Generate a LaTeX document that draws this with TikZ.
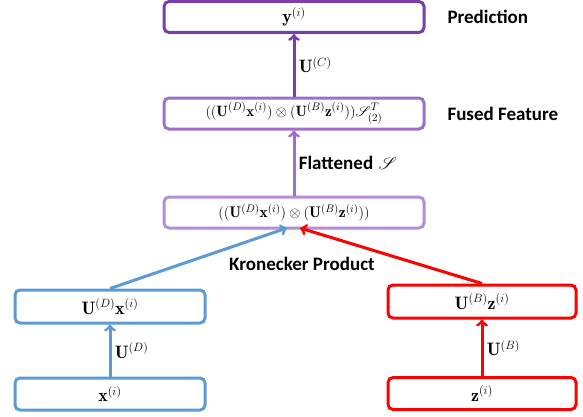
\documentclass[tikz,border=0pt]{standalone}
\usepackage{fontspec}
\setsansfont{Carlito}
\usepackage{amsmath}
\usepackage{amssymb}
\usepackage{mathrsfs}
\usetikzlibrary{arrows}
\definecolor{predpurple}{HTML}{7A3DAE}
\definecolor{fusepurple}{HTML}{9D6FCB}
\definecolor{kronpurple}{HTML}{B48DD8}
\definecolor{imgblue}{HTML}{5B9BD5}
\definecolor{txtred}{HTML}{FF0000}
\tikzset{
  featbox/.style={draw, line width=3pt, rounded corners=5pt, minimum height=31pt, inner sep=0pt, font=\fontsize{18}{21}\selectfont},
  sidelabel/.style={anchor=west, font=\sffamily\bfseries\fontsize{19}{22}\selectfont},
  link/.style={line width=3pt},
  linklabel/.style={right, text=black, font=\fontsize{18}{21}\selectfont},
}
\begin{document}
\begin{tikzpicture}[x=1pt,y=1pt,->,>=to]
\useasboundingbox (0,0) rectangle (583,416);
% fusion column
\node[featbox, draw=predpurple, minimum width=260pt] (pred) at (294,399) {$\mathbf{y}^{(i)}$};
\node[featbox, draw=fusepurple, minimum width=260pt, font=\fontsize{15}{18}\selectfont] (fused) at (294,302.5)
  {$((\mathbf{U}^{(D)}\mathbf{x}^{(i)})\otimes(\mathbf{U}^{(B)}\mathbf{z}^{(i)}))\mathscr{S}^{T}_{(2)}$};
\node[featbox, draw=kronpurple, minimum width=260pt, font=\fontsize{15.5}{18}\selectfont] (kron) at (294,203.5)
  {$((\mathbf{U}^{(D)}\mathbf{x}^{(i)})\otimes(\mathbf{U}^{(B)}\mathbf{z}^{(i)}))$};
% two inputs
\node[featbox, draw=imgblue, minimum width=190pt, minimum height=33pt] (ux) at (110,109.5) {$\mathbf{U}^{(D)}\mathbf{x}^{(i)}$};
\node[featbox, draw=imgblue, minimum width=190pt, minimum height=32pt] (x) at (110,22) {$\mathbf{x}^{(i)}$};
\node[featbox, draw=txtred, minimum width=188pt, minimum height=33pt] (uz) at (482,114.5) {$\mathbf{U}^{(B)}\mathbf{z}^{(i)}$};
\node[featbox, draw=txtred, minimum width=188pt, minimum height=32pt] (z) at (482,22.5) {$\mathbf{z}^{(i)}$};
% side texts
\node[sidelabel] (predtxt) at (444,399) {Prediction};
\node[sidelabel] (fusedtxt) at (444,302.5) {Fused Feature};
\node[font=\sffamily\bfseries\fontsize{19}{22}\selectfont] (krontxt) at (302,152) {Kronecker Product};
\coordinate (kinL) at (287,188);
\coordinate (kinR) at (300,188);
% arrows
\draw[link, predpurple] (fused) -- node[linklabel]{$\mathbf{U}^{(C)}$} (pred);
\draw[link, fusepurple] (kron) -- node[linklabel]{{\sffamily\bfseries\fontsize{19}{22}\selectfont Flattened} $\mathscr{S}$} (fused);
\draw[link, imgblue] (ux.north) -- (kinL);
\draw[link, txtred] (uz.north) -- (kinR);
\draw[link, imgblue] (x) -- node[linklabel]{$\mathbf{U}^{(D)}$} (ux);
\draw[link, txtred] (z) -- node[linklabel]{$\mathbf{U}^{(B)}$} (uz);
\end{tikzpicture}
\end{document}
